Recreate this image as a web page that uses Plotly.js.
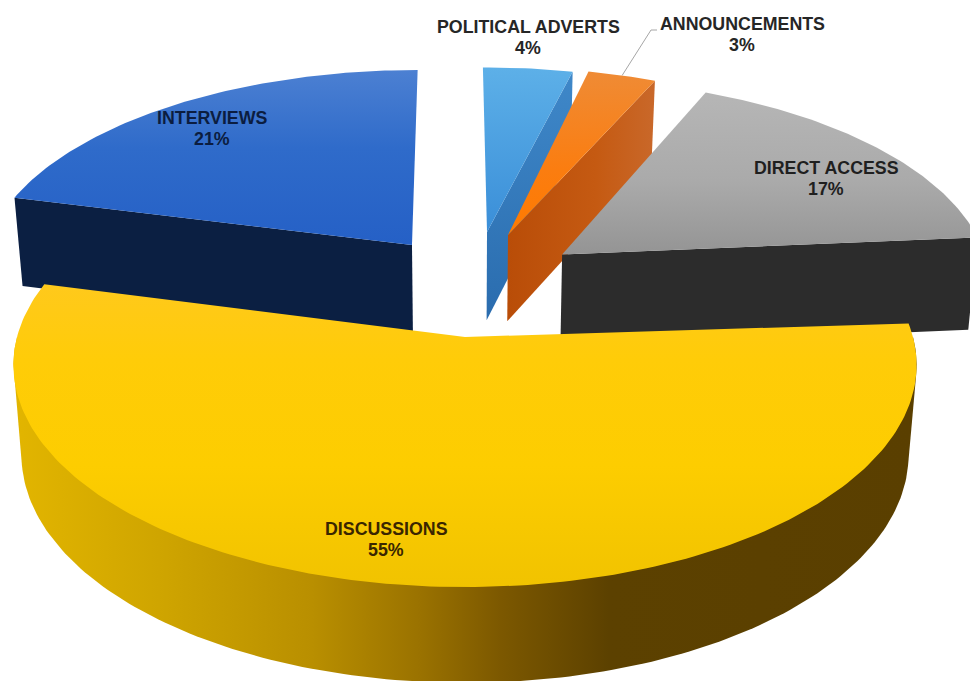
<!DOCTYPE html>
<html>
<head>
<meta charset="utf-8">
<script src="https://cdn.plot.ly/plotly-3.0.1.min.js"></script>
<style>
  html, body { margin: 0; padding: 0; background: #fff; }
  #chart { width: 970px; height: 681px; }
</style>
</head>
<body>
<div id="chart"></div>
<script>
// Slices in clockwise order, starting from twelve o'clock.
const categories = ['POLITICAL ADVERTS', 'ANNOUNCEMENTS', 'DIRECT ACCESS', 'DISCUSSIONS', 'INTERVIEWS'];
const shares = [4, 3, 17, 55, 21];

// Explosion of each slice within the pie's plane, in pie radii, plus its radius and angular trim.
const explodeX = [0.0523, 0.102, 0.2276, 0, -0.125];
const explodeY = [0.5115, 0.496, 0.396, 0, 0.4446];
const radiusScale = [0.95, 0.965, 0.99, 1, 1];
const turnDeg = [0.3, 1, 1.5, 0, 0];
const baseDrop = [2, 0, 6, 0, 3];

// Label placement: centre of the two-line text block.
const labelX = [528, 742, 826, 386, 212];
const labelY = [37, 34, 178.5, 539, 128];
const labelColors = ['#262626', '#262626', '#1f1f1f', '#3a2600', '#0b1d40'];
const labelLineGap = 21;

// Vertical gradients for the slice tops.
const topGradients = [
  [[0, '#5db0e8'], [1, '#3a8ed8']],
  [[0, '#ef8b35'], [0.6, '#fb7d10'], [1, '#ff7a00']],
  [[0, '#b6b6b6'], [0.55, '#aaaaaa'], [1, '#949494']],
  [[0, '#ffc91c'], [0.25, '#ffcc08'], [0.6, '#fdcd00'], [1, '#f1c300']],
  [[0, '#4c80d2'], [0.45, '#2f6bca'], [1, '#2560c6']]
];

// Perspective of the top face and of the lower rim of the extruded pie.
const topView = { cx: 465, cy: 337, rx: 448, ry: 218.5 };
const baseView = { cx: 465, cy: 426, rx: 440, ry: 224.4 };
const perspective = 0.1262;

function project(view, X, Y) {
  const w = 1 + perspective * Y;
  return [view.cx + view.rx * X / w, view.cy - view.ry * Y / w];
}

// Angular span of each slice, measured from the shares.
const total = shares.reduce((a, b) => a + b, 0);
let cursor = 90;
const spans = shares.map((v, i) => {
  const from = cursor + turnDeg[i];
  cursor -= v / total * 360;
  return [from, cursor + turnDeg[i]];
});

function rimPoint(i, deg, view) {
  const t = deg * Math.PI / 180;
  const p = project(view,
    explodeX[i] + radiusScale[i] * Math.cos(t),
    explodeY[i] + radiusScale[i] * Math.sin(t));
  return view === baseView ? [p[0], p[1] + baseDrop[i]] : p;
}
function apexPoint(i, view) {
  const p = project(view, explodeX[i], explodeY[i]);
  return view === baseView ? [p[0], p[1] + baseDrop[i]] : p;
}

function arc(i, from, to, view) {
  const pts = [];
  const n = Math.max(2, Math.ceil(Math.abs(from - to)));
  for (let k = 0; k <= n; k++) pts.push(rimPoint(i, from + (to - from) * k / n, view));
  return pts;
}

function polygon(pts, fill) {
  const trace = {
    type: 'scatter', mode: 'lines', hoverinfo: 'skip',
    x: pts.map(p => p[0]).concat(pts[0][0]),
    y: pts.map(p => p[1]).concat(pts[0][1]),
    fill: 'toself', line: { width: 0, color: 'rgba(0,0,0,0)' }
  };
  return Object.assign(trace, fill);
}

function verticalFill(stops, pts) {
  const ys = pts.map(p => p[1]);
  return { fillgradient: { type: 'vertical', colorscale: stops,
    start: Math.min(...ys), stop: Math.max(...ys) } };
}

function topFace(i) {
  const pts = [apexPoint(i, topView)].concat(arc(i, spans[i][0], spans[i][1], topView));
  return polygon(pts, verticalFill(topGradients[i], pts));
}

// Flat cut face of a slice at the given angle.
function cutFace(i, deg) {
  return [apexPoint(i, topView), rimPoint(i, deg, topView),
          rimPoint(i, deg, baseView), apexPoint(i, baseView)];
}

function convexHull(points) {
  const p = points.slice().sort((a, b) => a[0] - b[0] || a[1] - b[1]);
  const cross = (o, a, b) => (a[0] - o[0]) * (b[1] - o[1]) - (a[1] - o[1]) * (b[0] - o[0]);
  const half = list => {
    const h = [];
    for (const q of list) {
      while (h.length > 1 && cross(h[h.length - 2], h[h.length - 1], q) <= 0) h.pop();
      h.push(q);
    }
    h.pop();
    return h;
  };
  return half(p).concat(half(p.slice().reverse()));
}

const POL = 0, ANN = 1, DIR = 2, DIS = 3, INT = 4;

const sidePolitical = polygon(cutFace(POL, spans[POL][1]), { fillgradient: { type: 'vertical',
  colorscale: [[0, '#3f88c9'], [1, '#2a6cae']], start: 70, stop: 321 } });
const sideAnnounce = polygon(cutFace(ANN, spans[ANN][1]), { fillgradient: { type: 'horizontal',
  colorscale: [[0, '#b94d08'], [0.6, '#c55a12'], [1, '#c9682a']], start: 508, stop: 655 } });
const sideDirect = polygon(cutFace(DIR, spans[DIR][1]), { fillcolor: '#2c2c2c' });
const sideInterviews = polygon(cutFace(INT, spans[INT][0]), { fillcolor: '#0b1f42' });

// Outer wall of the large slice: the silhouette of its front half on both rims.
const wallPts = convexHull(arc(DIS, 0, -180, topView).concat(arc(DIS, 0, -180, baseView)));
const wallDiscussions = polygon(wallPts, { fillgradient: { type: 'horizontal',
  colorscale: [[0, '#e2b500'], [0.16, '#cfa500'], [0.33, '#b98f00'], [0.45, '#9a7200'],
               [0.54, '#7c5800'], [0.66, '#5c4100'], [1, '#5a3f00']], start: 15, stop: 915 } });

// Leader from the rim of the announcements slice up to its label.
const annMid = rimPoint(ANN, (spans[ANN][0] + spans[ANN][1]) / 2, topView);
const leader = {
  type: 'scatter', mode: 'lines', hoverinfo: 'skip',
  x: [annMid[0], labelX[ANN] - 91, labelX[ANN] - 85],
  y: [annMid[1], labelY[ANN] - 4, labelY[ANN] - 4],
  line: { color: '#a6a6a6', width: 1 }
};

const traces = [
  sidePolitical, topFace(POL),
  leader,
  sideAnnounce, topFace(ANN),
  sideDirect, topFace(DIR),
  sideInterviews, topFace(INT),
  wallDiscussions, topFace(DIS)
];

function labelLine(i, text, offset) {
  return {
    x: labelX[i], y: labelY[i] + offset, xref: 'x', yref: 'y', showarrow: false,
    xanchor: 'center', yanchor: 'middle', align: 'center',
    text: '<b>' + text + '</b>',
    font: { family: 'Liberation Sans, Arial, sans-serif', size: 17.8, color: labelColors[i] }
  };
}
const annotations = categories.flatMap((name, i) => [
  labelLine(i, name, -labelLineGap / 2),
  labelLine(i, shares[i] + '%', labelLineGap / 2)
]);

Plotly.newPlot('chart', traces, {
  width: 970, height: 681,
  margin: { l: 0, r: 0, t: 0, b: 0 },
  paper_bgcolor: '#ffffff', plot_bgcolor: '#ffffff',
  showlegend: false,
  xaxis: { range: [0, 970], visible: false, fixedrange: true },
  yaxis: { range: [681, 0], visible: false, fixedrange: true },
  annotations: annotations
}, { displayModeBar: false, staticPlot: true });
</script>
</body>
</html>
